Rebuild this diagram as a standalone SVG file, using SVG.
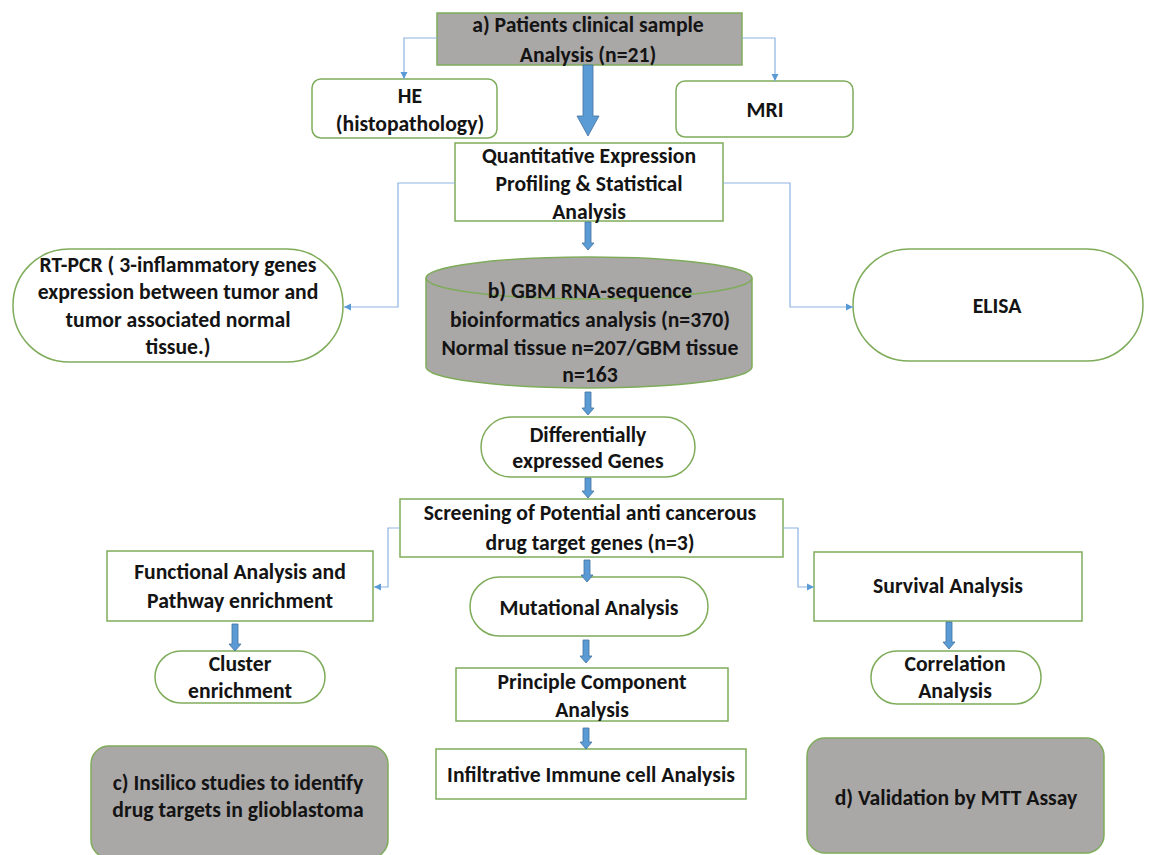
<svg xmlns="http://www.w3.org/2000/svg" width="1150" height="855" viewBox="0 0 1150 855">
<defs>
<style>
.box{fill:#ffffff;stroke:#7fac5a;stroke-width:1.5}
.gray{fill:#aaa7a7;stroke:#7fac5a;stroke-width:1.5}
.t{font-family:Carlito,Lato,"Liberation Sans",sans-serif;font-weight:bold;font-size:21.7px;fill:#141414;text-anchor:middle}
.conn{fill:none;stroke:#8db4e2;stroke-width:1.2;marker-end:url(#ah)}
.blk{fill:#5b9bd5;stroke:#41719c;stroke-width:0.8}
</style>
<marker id="ah" markerUnits="userSpaceOnUse" markerWidth="8" markerHeight="8" refX="7" refY="4" orient="auto">
<path d="M0,0.5 L7,4 L0,7.5 Z" fill="#5b9bd5"/>
</marker>
</defs>
<rect width="1150" height="855" fill="#ffffff"/>

<g id="node-a">
<rect class="gray" x="437" y="13" width="305" height="52"/>
<text class="t" x="588" y="32">a) Patients clinical sample</text>
<text class="t" x="588" y="62">Analysis (n=21)</text>
</g>
<g id="node-he">
<rect class="box" x="312" y="79" width="185" height="59" rx="9"/>
<text class="t" x="410" y="103">HE</text>
<text class="t" x="410" y="131">(histopathology)</text>
</g>
<g id="node-mri">
<rect class="box" x="676" y="81" width="177" height="56" rx="9"/>
<text class="t" x="765" y="117">MRI</text>
</g>
<g id="node-quant">
<rect class="box" x="455" y="143" width="268" height="78"/>
<text class="t" x="589" y="163">Quantitative Expression</text>
<text class="t" x="589" y="191">Profiling &amp; Statistical</text>
<text class="t" x="589" y="219">Analysis</text>
</g>
<g id="node-rtpcr">
<rect class="box" x="13" y="249" width="330" height="113" rx="56"/>
<text class="t" x="178" y="272">RT-PCR ( 3-inflammatory genes</text>
<text class="t" x="178" y="299">expression between tumor and</text>
<text class="t" x="178" y="327">tumor associated normal</text>
<text class="t" x="178" y="354">tissue.)</text>
</g>
<g id="node-b">
<path class="gray" d="M426,278 A163,21 0 0 1 752,278 L752,367 A163,21 0 0 1 426,367 Z"/>
<path d="M426,278 A163,21 0 0 0 752,278" fill="none" stroke="#7fac5a" stroke-width="1.5"/>
<text class="t" x="590" y="298">b) GBM RNA-sequence</text>
<text class="t" x="590" y="327">bioinformatics analysis (n=370)</text>
<text class="t" x="590" y="355">Normal tissue n=207/GBM tissue</text>
<text class="t" x="590" y="382">n=163</text>
</g>
<g id="node-elisa">
<rect class="box" x="853" y="249" width="290" height="112" rx="56"/>
<text class="t" x="997" y="313">ELISA</text>
</g>
<g id="node-deg">
<rect class="box" x="481" y="417" width="214" height="60" rx="30"/>
<text class="t" x="588" y="442">Differentially</text>
<text class="t" x="588" y="468">expressed Genes</text>
</g>
<g id="node-screen">
<rect class="box" x="400" y="499" width="383" height="58"/>
<text class="t" x="590" y="520">Screening of Potential anti cancerous</text>
<text class="t" x="590" y="550">drug target genes (n=3)</text>
</g>
<g id="node-func">
<rect class="box" x="107" y="551" width="266" height="70"/>
<text class="t" x="240" y="579">Functional Analysis and</text>
<text class="t" x="240" y="608">Pathway enrichment</text>
</g>
<g id="node-mut">
<rect class="box" x="470" y="577" width="238" height="59" rx="29.5"/>
<text class="t" x="589" y="615">Mutational Analysis</text>
</g>
<g id="node-surv">
<rect class="box" x="814" y="552" width="268" height="69"/>
<text class="t" x="948" y="593">Survival Analysis</text>
</g>
<g id="node-cluster">
<rect class="box" x="155" y="651" width="170" height="52" rx="26"/>
<text class="t" x="240" y="671">Cluster</text>
<text class="t" x="240" y="698">enrichment</text>
</g>
<g id="node-pca">
<rect class="box" x="456" y="668" width="272" height="53"/>
<text class="t" x="592" y="689">Principle Component</text>
<text class="t" x="592" y="717">Analysis</text>
</g>
<g id="node-corr">
<rect class="box" x="871" y="651" width="170" height="53" rx="26"/>
<text class="t" x="955" y="671">Correlation</text>
<text class="t" x="955" y="698">Analysis</text>
</g>
<g id="node-immune">
<rect class="box" x="436" y="749" width="310" height="50"/>
<text class="t" x="591" y="782">Infiltrative Immune cell Analysis</text>
</g>
<g id="node-c">
<rect class="gray" x="91" y="746" width="297" height="112" rx="18"/>
<text class="t" x="238" y="790">c) Insilico studies to identify</text>
<text class="t" x="238" y="817">drug targets in glioblastoma</text>
</g>
<g id="node-d">
<rect class="gray" x="807" y="738" width="297" height="115" rx="18"/>
<text class="t" x="956" y="805">d) Validation by MTT Assay</text>
</g>

<g id="connectors">
<path class="conn" d="M437,38 L404,38 L404,79"/>
<path class="conn" d="M742,38 L775,38 L775,81"/>
<path class="conn" d="M455,183 L398,183 L398,307 L344,307"/>
<path class="conn" d="M723,183 L790,183 L790,307 L853,307"/>
<path class="conn" d="M400,528 L388,528 L388,587 L374,587"/>
<path class="conn" d="M783,528 L798,528 L798,587 L814,587"/>
<path class="blk" d="M583,65 L593,65 L593,116 L599,116 L588,136 L577,116 L583,116 Z"/>
<path class="blk" d="M585,222 L591,222 L591,243 L594,243 L588,250 L582,243 L585,243 Z"/>
<path class="blk" d="M585,392 L591,392 L591,408 L594,408 L588,415 L582,408 L585,408 Z"/>
<path class="blk" d="M585,478 L591,478 L591,491 L594,491 L588,498 L582,491 L585,491 Z"/>
<path class="blk" d="M584,560 L590,560 L590,575 L593,575 L587,582 L581,575 L584,575 Z"/>
<path class="blk" d="M583,640 L589,640 L589,656 L592,656 L586,663 L580,656 L583,656 Z"/>
<path class="blk" d="M583,728 L589,728 L589,742 L592,742 L586,749 L580,742 L583,742 Z"/>
<path class="blk" d="M232,624 L238,624 L238,644 L241,644 L235,651 L229,644 L232,644 Z"/>
<path class="blk" d="M946,622 L952,622 L952,642 L955,642 L949,649 L943,642 L946,642 Z"/>
</g>
</svg>
